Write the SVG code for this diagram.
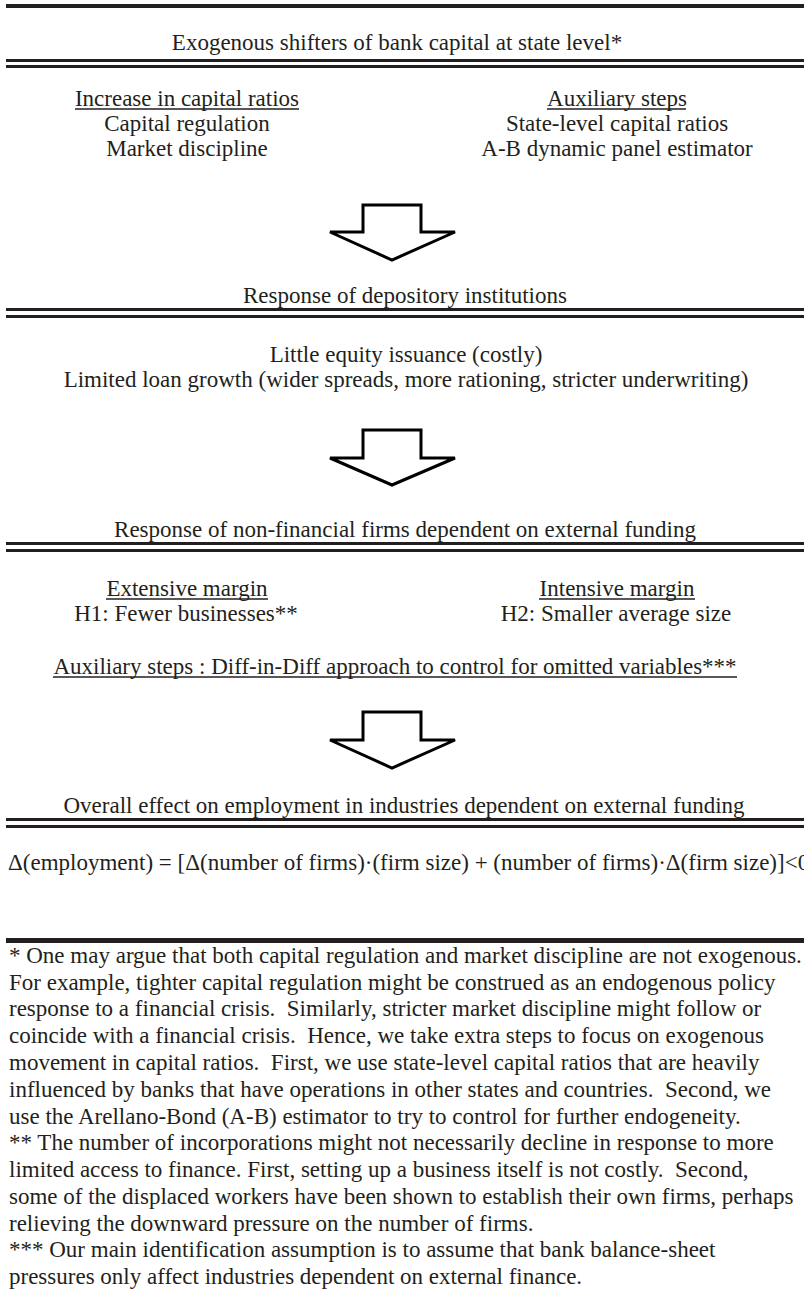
<svg xmlns="http://www.w3.org/2000/svg" width="804" height="1301" viewBox="0 0 804 1301">
<style>
text{font-family:"Liberation Serif","Times New Roman",serif;font-size:23px;fill:#231f20}
.c{text-anchor:middle}
.bar{fill:#231f20}
.ul{stroke:#231f20;stroke-width:1.5}
.arrow{fill:#fff;stroke:#000;stroke-width:3;stroke-linejoin:miter}
#notes text{white-space:pre}
</style>
<rect class="bar" x="6" y="4" width="798" height="4"/>
<g id="n1">
<text class="c" x="397" y="50">Exogenous shifters of bank capital at state level*</text>
<rect class="bar" x="6" y="59" width="798" height="3"/>
<rect class="bar" x="6" y="65" width="798" height="3"/>
</g>
<g id="n1a">
<text class="c" x="187" y="106">Increase in capital ratios</text>
<line class="ul" x1="75" y1="109" x2="299" y2="109"/>
<text class="c" x="187" y="131">Capital regulation</text>
<text class="c" x="187" y="156">Market discipline</text>
</g>
<g id="n1b">
<text class="c" x="617" y="106">Auxiliary steps</text>
<line class="ul" x1="547" y1="109" x2="686" y2="109"/>
<text class="c" x="617" y="131">State-level capital ratios</text>
<text class="c" x="617" y="156">A-B dynamic panel estimator</text>
</g>
<g id="connectors">
<polygon class="arrow" points="363,205 421,205 421,232 455,232 392,260 330,232 363,232"/>
<polygon class="arrow" points="363,430 421,430 421,458 455,458 392,485 330,458 363,458"/>
<polygon class="arrow" points="363,712 421,712 421,740 455,740 392,768 330,740 363,740"/>
</g>
<g id="n2">
<text class="c" x="405" y="303">Response of depository institutions</text>
<rect class="bar" x="6" y="308" width="798" height="3"/>
<rect class="bar" x="6" y="315" width="798" height="3"/>
<text class="c" x="406" y="362">Little equity issuance (costly)</text>
<text class="c" x="406" y="387">Limited loan growth (wider spreads, more rationing, stricter underwriting)</text>
</g>
<g id="n3">
<text class="c" x="405" y="537">Response of non-financial firms dependent on external funding</text>
<rect class="bar" x="6" y="542" width="798" height="3"/>
<rect class="bar" x="6" y="549" width="798" height="3"/>
<text class="c" x="187" y="596">Extensive margin</text>
<line class="ul" x1="106" y1="599" x2="268" y2="599"/>
<text class="c" x="186" y="621">H1: Fewer businesses**</text>
<text class="c" x="617" y="596">Intensive margin</text>
<line class="ul" x1="539" y1="599" x2="695" y2="599"/>
<text class="c" x="616" y="621">H2: Smaller average size</text>
<text class="c" x="395" y="674">Auxiliary steps : Diff-in-Diff approach to control for omitted variables***</text>
<line class="ul" x1="53" y1="677" x2="737" y2="677"/>
</g>
<g id="n4">
<text class="c" x="404" y="813">Overall effect on employment in industries dependent on external funding</text>
<rect class="bar" x="6" y="818" width="798" height="3"/>
<rect class="bar" x="6" y="825" width="798" height="3"/>
<text x="8" y="870">Δ(employment) = [Δ(number of firms)·(firm size) + (number of firms)·Δ(firm size)]&lt;0</text>
</g>
<g id="notes">
<rect class="bar" x="6" y="938" width="798" height="5"/>
<text x="9" y="963">* One may argue that both capital regulation and market discipline are not exogenous.</text>
<text x="9" y="990">For example, tighter capital regulation might be construed as an endogenous policy</text>
<text x="9" y="1016">response to a financial crisis.  Similarly, stricter market discipline might follow or</text>
<text x="9" y="1043">coincide with a financial crisis.  Hence, we take extra steps to focus on exogenous</text>
<text x="9" y="1070">movement in capital ratios.  First, we use state-level capital ratios that are heavily</text>
<text x="9" y="1097">influenced by banks that have operations in other states and countries.  Second, we</text>
<text x="9" y="1124">use the Arellano-Bond (A-B) estimator to try to control for further endogeneity.</text>
<text x="9" y="1150">** The number of incorporations might not necessarily decline in response to more</text>
<text x="9" y="1177">limited access to finance. First, setting up a business itself is not costly.  Second,</text>
<text x="9" y="1204">some of the displaced workers have been shown to establish their own firms, perhaps</text>
<text x="9" y="1231">relieving the downward pressure on the number of firms.</text>
<text x="9" y="1257">*** Our main identification assumption is to assume that bank balance-sheet</text>
<text x="9" y="1284">pressures only affect industries dependent on external finance.</text>
</g>
</svg>
